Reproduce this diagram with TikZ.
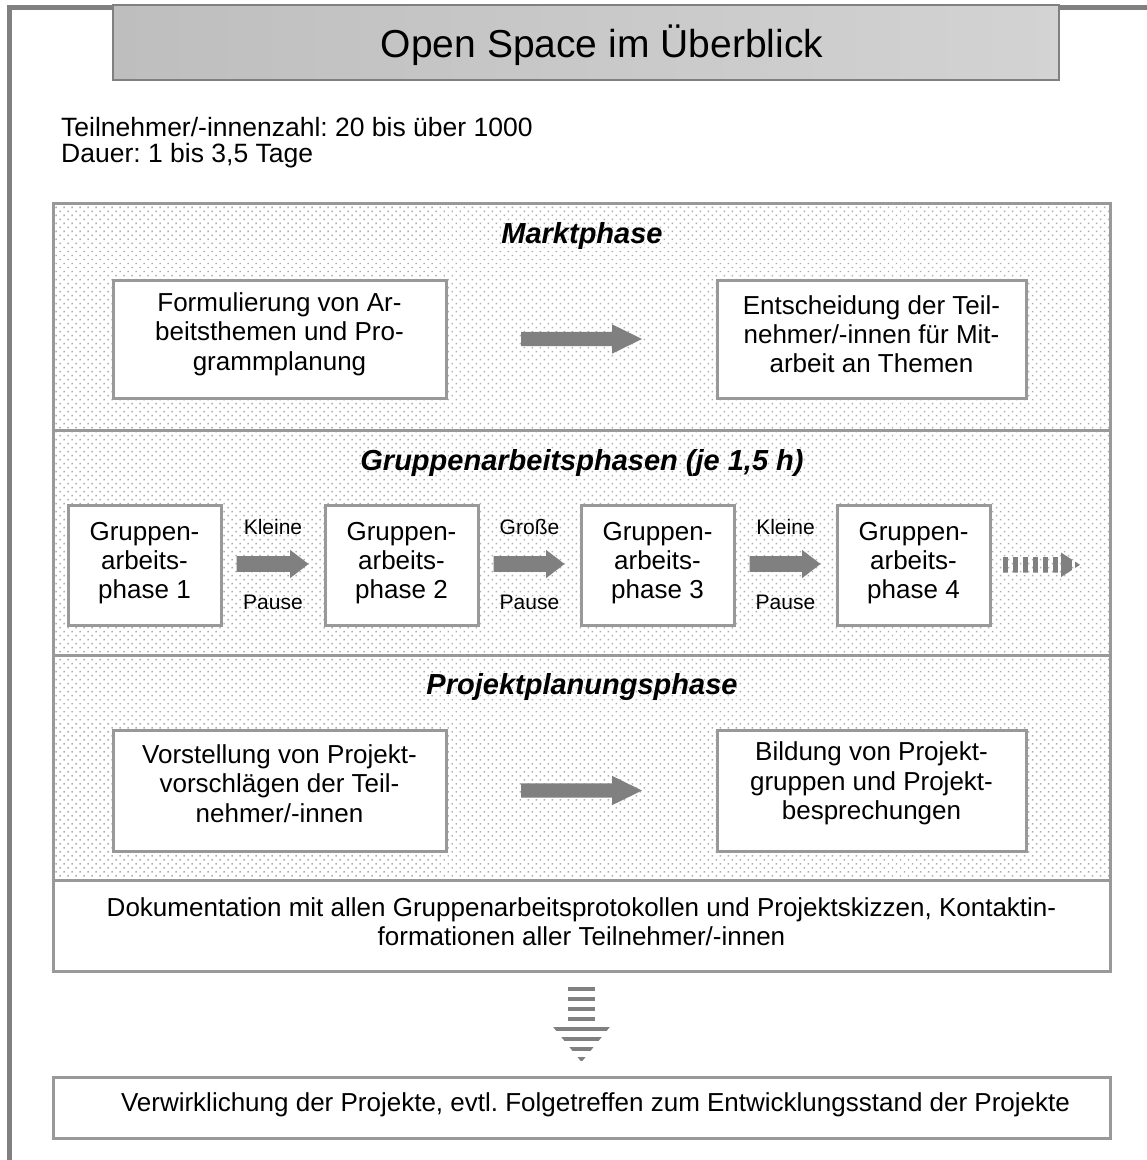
\documentclass[tikz,border=0pt]{standalone}
\usepackage{fontspec}
\setmainfont{Liberation Sans}
\frenchspacing
\usetikzlibrary{calc,patterns.meta}
\definecolor{framegray}{HTML}{808080}
\definecolor{boxline}{HTML}{999999}
\definecolor{arrowgray}{HTML}{808080}
\definecolor{dotgray}{HTML}{ABABAB}
\definecolor{titleL}{HTML}{BEBEBE}
\definecolor{titleR}{HTML}{D3D3D3}
\newcommand\bodyfont{\fontsize{26}{29.3}\selectfont}
\newcommand\headfont{\fontsize{26.5}{29}\selectfont}
\newcommand\secfont{\fontsize{29}{33}\selectfont\bfseries\itshape}
\newcommand\pausefont{\fontsize{21}{24}\selectfont}
\newcommand\bigtitlefont{\fontsize{39}{44}\selectfont}
\newcommand\blockarrow[5]{%
  \fill[arrowgray] ($(#1)+(0,#3)$) -- ($(#2)+(-#5,#3)$) -- ($(#2)+(-#5,#4)$) -- (#2)
    -- ($(#2)+(-#5,-#4)$) -- ($(#2)+(-#5,-#3)$) -- ($(#1)+(0,-#3)$) -- cycle;}
\begin{document}
\begin{tikzpicture}[x=1pt,y=-1pt,
  sect/.style={draw=boxline, line width=3pt, inner sep=0pt, minimum width=1057pt,
    pattern={Dots[distance=5.66pt,angle=45,radius=1.05pt]}, pattern color=dotgray},
  docbox/.style={draw=boxline, line width=3pt, inner sep=0pt, fill=white, minimum width=1057pt},
  wbox/.style={draw=boxline, line width=3pt, fill=white, inner sep=0pt},
  btext/.style={font=\bodyfont, align=center, inner sep=0pt},
  stitle/.style={font=\secfont, anchor=base, inner sep=0pt},
  ptext/.style={font=\pausefont, anchor=base, inner sep=0pt},
  htext/.style={font=\headfont, anchor=base west, inner sep=0pt}
]
\useasboundingbox (0,0) rectangle (1147,1160);
\fill[white] (0,0) rectangle (1147,1160);

% outer frame
\draw[framegray, line width=5pt] (9,1170) -- (9,7) -- (1160,7);

% title
\node[draw=framegray, line width=2.5pt, left color=titleL, right color=titleR,
  minimum width=946pt, minimum height=75pt, inner sep=0pt] (title) at (586,42.5) {};
\node[font=\bigtitlefont, inner sep=0pt] (titletext) at (602,45) {Open Space im Überblick};

% header info
\node[htext] (info1) at (61,136) {Teilnehmer/-innenzahl: 20 bis über 1000};
\node[htext] (info2) at (61,162) {Dauer: 1 bis 3,5 Tage};

% sections
\node[sect, minimum height=227pt] (markt) at (581.5,316.5) {};
\node[sect, minimum height=225pt] (gruppe) at (581.5,542.5) {};
\node[sect, minimum height=225pt] (projekt) at (581.5,767.5) {};
\node[docbox, minimum height=91pt] (doku) at (581.5,925.5) {};

\node[stitle] (marktT) at (582,243) {Marktphase};
\node[stitle] (gruppeT) at (582,470) {Gruppenarbeitsphasen (je 1,5 h)};
\node[stitle] (projektT) at (582,694) {Projektplanungsphase};

% Marktphase boxes
\node[wbox, minimum width=333pt, minimum height=118pt] (m1) at (279.5,339) {};
\node[btext] (m1t) at ($(m1.center)+(0,-5)$) {Formulierung von Ar-\\beitsthemen und Pro-\\grammplanung};
\node[wbox, minimum width=309pt, minimum height=118pt] (m2) at (871.5,339) {};
\node[btext] (m2t) at ($(m2.center)+(0,-5)$) {Entscheidung der Teil-\\nehmer/-innen für Mit-\\arbeit an Themen};
\coordinate (ma) at (521,339);
\coordinate (mb) at (642,339);
\blockarrow{ma}{mb}{7.2}{14.7}{30}

% Gruppenarbeitsphasen boxes
\foreach \i/\x in {1/144.5,2/401.5,3/657.5,4/913.5}{
  \node[wbox, minimum width=153pt, minimum height=120pt] (g\i) at (\x,565) {};
  \node[btext] (g\i t) at ($(g\i.center)+(0,-2)$) {Gruppen-\\arbeits-\\phase \i};
}
\foreach \a/\b/\top in {1/2/Kleine,2/3/Große,3/4/Kleine}{
  \coordinate (ga\a) at ($(g\a.east)+(14,-1)$);
  \coordinate (gb\a) at ($(g\b.west)+(-15,-1)$);
  \blockarrow{ga\a}{gb\a}{7.8}{14.2}{18.5}
  \node[ptext] (k\a) at ($(g\a.east)!0.5!(g\b.west)+(0,-31)$) {\top};
  \node[ptext] (p\a) at ($(g\a.east)!0.5!(g\b.west)+(0,44)$) {Pause};
}

% dashed continuation arrow
\coordinate (ra) at (1003,564.8);
\coordinate (rb) at (1080,564.8);
\begin{scope}
  \clip ($(ra)+(0,-7.7)$) -- ($(rb)+(-19,-7.7)$) -- ($(rb)+(-19,-12.3)$) -- (rb)
    -- ($(rb)+(-19,12.3)$) -- ($(rb)+(-19,7.7)$) -- ($(ra)+(0,7.7)$) -- cycle;
  \foreach \xa/\xb in {1003/1007.5,1013/1017.5,1023/1027.5,1033/1037.5,1043/1047.5,1053/1057.5,1061/1072,1075/1081}
    \fill[arrowgray] (\xa,545) rectangle (\xb,585);
\end{scope}

% Projektplanungsphase boxes
\node[wbox, minimum width=333pt, minimum height=121pt] (p1) at (279.5,790.5) {};
\node[btext] (p1t) at ($(p1.center)+(0,-7)$) {Vorstellung von Projekt-\\vorschlägen der Teil-\\nehmer/-innen};
\node[wbox, minimum width=309pt, minimum height=121pt] (p2) at (871.5,790.5) {};
\node[btext] (p2t) at ($(p2.center)+(0,-7)$) {Bildung von Projekt-\\gruppen und Projekt-\\besprechungen};
\coordinate (pa) at (521,790.5);
\coordinate (pb) at (642,790.5);
\blockarrow{pa}{pb}{7.2}{14.7}{30}

% documentation text
\node[btext] (dokut) at ($(doku.center)+(0,-4)$) {Dokumentation mit allen Gruppenarbeitsprotokollen und Projektskizzen, Kontaktin-\\formationen aller Teilnehmer/-innen};

% striped down arrow
\coordinate (da) at (581.5,985);
\coordinate (db) at (581.5,1062);
\begin{scope}
  \clip ($(da)+(-13.3,0)$) -- ($(da)+(13.3,0)$) -- ($(db)+(13.3,-35.5)$) -- ($(db)+(28.7,-35.5)$)
    -- (db) -- ($(db)+(-28.7,-35.5)$) -- ($(db)+(-13.3,-35.5)$) -- cycle;
  \foreach \k in {0,...,7}
    \fill[arrowgray] (540,986.5+10*\k) rectangle (625,991+10*\k);
\end{scope}

% final box
\node[wbox, minimum width=1057pt, minimum height=61pt] (final) at (581.5,1107.5) {};
\node[btext] (finalt) at ($(final.center)+(14,-3)$) {Verwirklichung der Projekte, evtl. Folgetreffen zum Entwicklungsstand der Projekte};
\end{tikzpicture}
\end{document}
